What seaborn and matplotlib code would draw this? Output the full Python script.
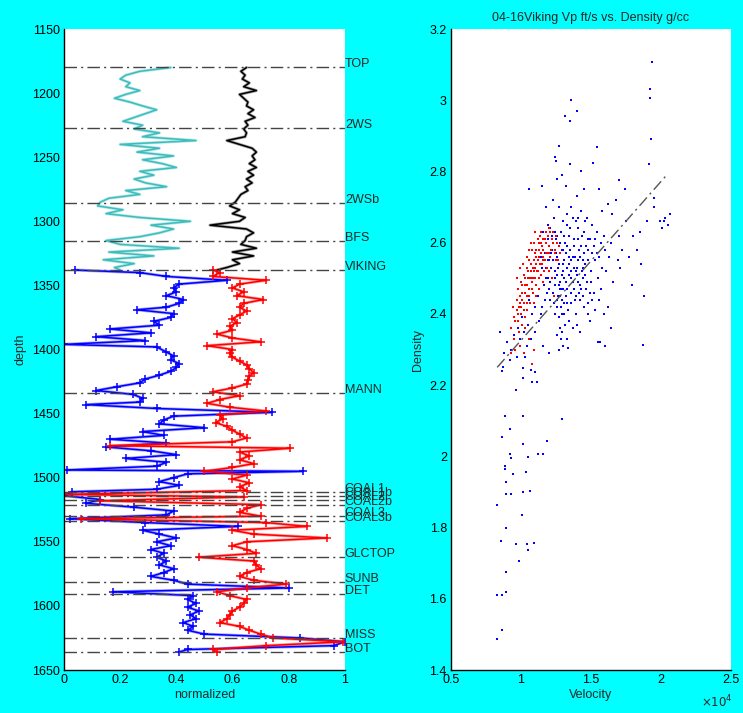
import numpy as np
import pandas as pd
import seaborn as sns
import matplotlib.pyplot as plt

# ---- well tops ----
top_names = ['TOP', '2WS', '2WSb', 'BFS', 'VIKING', 'MANN', 'COAL1', 'COAL1b', 'COAL2', 'COAL2b',
             'COAL3', 'COAL3b', 'GLCTOP', 'SUNB', 'DET', 'MISS', 'BOT']
top_depths = [1180, 1227, 1286, 1315, 1338, 1434, 1511, 1514, 1517, 1521,
              1530, 1534, 1562, 1581, 1591, 1625, 1636]

# ---- upper logs (above VIKING) ----
upper_depth = [1180, 1183, 1186, 1189, 1192, 1195, 1198, 1201, 1204, 1207, 1210, 1213, 1216, 1219,
               1222, 1225, 1228, 1231, 1234, 1237, 1240, 1243, 1246, 1249, 1252, 1255, 1258, 1261,
               1264, 1267, 1270, 1273, 1276, 1279, 1282, 1285, 1288, 1291, 1294, 1297, 1300, 1303,
               1306, 1309, 1312, 1315, 1318, 1321, 1324, 1327, 1330, 1333, 1336, 1338]
cyan_log = [0.38, 0.27, 0.22, 0.20, 0.235, 0.22, 0.27, 0.22, 0.18, 0.235, 0.28, 0.33, 0.29, 0.25,
            0.21, 0.28, 0.25, 0.34, 0.28, 0.47, 0.20, 0.34, 0.26, 0.39, 0.28, 0.35, 0.40, 0.27,
            0.32, 0.25, 0.29, 0.365, 0.22, 0.27, 0.16, 0.13, 0.12, 0.21, 0.15, 0.27, 0.45, 0.31,
            0.39, 0.34, 0.27, 0.15, 0.20, 0.41, 0.16, 0.32, 0.14, 0.25, 0.18, 0.20]
black_log = [0.65, 0.63, 0.645, 0.635, 0.66, 0.64, 0.685, 0.625, 0.64, 0.655, 0.65, 0.675, 0.655, 0.68,
             0.645, 0.655, 0.64, 0.65, 0.645, 0.58, 0.625, 0.67, 0.685, 0.67, 0.68, 0.66, 0.685, 0.655,
             0.675, 0.65, 0.67, 0.645, 0.655, 0.63, 0.62, 0.61, 0.59, 0.625, 0.60, 0.645, 0.625, 0.52,
             0.65, 0.675, 0.65, 0.645, 0.63, 0.685, 0.60, 0.675, 0.60, 0.625, 0.58, 0.545]

# ---- lower logs (VIKING to BOT) ----
blue_depth = [1338, 1340, 1343, 1346, 1349, 1352, 1355, 1358, 1361, 1364, 1367, 1369, 1372, 1375,
              1378, 1381, 1384, 1387, 1390, 1393, 1396, 1398, 1402, 1405, 1408, 1411, 1414, 1417,
              1420, 1423, 1426, 1429, 1432, 1435, 1438, 1441, 1443, 1446, 1449, 1452, 1455, 1458,
              1461, 1464, 1467, 1470, 1473, 1476, 1479, 1482, 1485, 1488, 1491, 1494, 1495, 1497,
              1500, 1503, 1506, 1509, 1511, 1514, 1517, 1520, 1523, 1526, 1529, 1532, 1535, 1538,
              1541, 1544, 1547, 1550, 1553, 1556, 1559, 1562, 1565, 1568, 1571, 1574, 1577, 1580,
              1583, 1586, 1589, 1592, 1595, 1598, 1601, 1604, 1607, 1610, 1613, 1616, 1619, 1622,
              1625, 1628, 1631, 1634, 1636]
blue_log = [0.04, 0.27, 0.365, 0.58, 0.41, 0.39, 0.40, 0.365, 0.425, 0.41, 0.365, 0.26, 0.39, 0.38,
            0.32, 0.34, 0.165, 0.31, 0.115, 0.29, 0.0, 0.33, 0.365, 0.39, 0.38, 0.41, 0.40, 0.38,
            0.34, 0.29, 0.27, 0.19, 0.115, 0.245, 0.28, 0.27, 0.08, 0.33, 0.74, 0.39, 0.355, 0.34,
            0.50, 0.28, 0.355, 0.165, 0.365, 0.15, 0.31, 0.40, 0.22, 0.365, 0.33, 0.01, 0.85, 0.44,
            0.39, 0.34, 0.41, 0.33, 0.03, 0.0, 0.13, 0.08, 0.25, 0.39, 0.365, 0.02, 0.29, 0.62,
            0.28, 0.34, 0.40, 0.33, 0.38, 0.31, 0.355, 0.33, 0.365, 0.34, 0.39, 0.355, 0.31, 0.39,
            0.44, 0.80, 0.175, 0.46, 0.44, 0.47, 0.44, 0.48, 0.45, 0.47, 0.425, 0.46, 0.44, 0.50,
            0.84, 1.0, 0.96, 0.44, 0.41]
red_depth = [1338, 1340, 1343, 1346, 1349, 1352, 1355, 1358, 1361, 1364, 1367, 1370, 1373, 1376,
             1379, 1382, 1385, 1388, 1391, 1394, 1397, 1400, 1403, 1406, 1409, 1412, 1415, 1418,
             1421, 1424, 1427, 1430, 1433, 1436, 1439, 1442, 1445, 1448, 1451, 1454, 1457, 1460,
             1463, 1466, 1469, 1472, 1475, 1477, 1480, 1483, 1486, 1489, 1492, 1495, 1498, 1501,
             1504, 1507, 1510, 1513, 1515, 1518, 1521, 1524, 1527, 1530, 1532, 1535, 1538, 1541,
             1544, 1547, 1550, 1553, 1556, 1559, 1562, 1565, 1568, 1571, 1574, 1577, 1580, 1583,
             1586, 1589, 1592, 1595, 1598, 1601, 1604, 1607, 1610, 1613, 1616, 1619, 1622, 1625,
             1628, 1631, 1634, 1636]
red_log = [0.53, 0.555, 0.53, 0.72, 0.625, 0.60, 0.64, 0.615, 0.71, 0.64, 0.625, 0.65, 0.625, 0.60,
           0.615, 0.59, 0.60, 0.545, 0.60, 0.70, 0.51, 0.60, 0.59, 0.60, 0.625, 0.65, 0.66, 0.675,
           0.66, 0.655, 0.65, 0.60, 0.53, 0.625, 0.555, 0.51, 0.59, 0.72, 0.555, 0.565, 0.54, 0.58,
           0.60, 0.625, 0.65, 0.60, 0.165, 0.805, 0.625, 0.66, 0.625, 0.675, 0.60, 0.50, 0.65, 0.60,
           0.66, 0.625, 0.65, 0.0, 0.64, 0.13, 0.70, 0.65, 0.625, 0.70, 0.06, 0.72, 0.865, 0.60,
           0.675, 0.935, 0.65, 0.60, 0.65, 0.685, 0.48, 0.675, 0.685, 0.70, 0.65, 0.625, 0.675, 0.79,
           0.65, 0.545, 0.59, 0.65, 0.64, 0.625, 0.60, 0.59, 0.58, 0.555, 0.625, 0.66, 0.70, 0.745,
           0.995, 0.72, 0.53, 0.545]

# ---- crossplot: Vp (ft/s) vs density (g/cc) ----
blue_vel = [12000, 12200, 12400, 12600, 12800, 13000, 13200, 13400, 13600, 13800, 14000, 14200, 14400, 14600, 14800, 15000,
            12100, 12300, 12500, 12700, 12900, 13100, 13300, 13500, 13700, 13900, 14100, 14300, 14500, 14700, 14900, 15100,
            11500, 11700, 11800, 11900, 12050, 12350, 12650, 12950, 13250, 13550, 13850, 14150, 14450, 14750, 15300, 15500,
            12600, 12700, 12800, 12900, 13000, 13100, 12750, 12850, 13150, 12550, 13350, 13600, 13900, 14200, 14500, 15200,
            13000, 13300, 13600, 13900, 14300, 14700, 12700, 15400, 15700, 16000, 15800, 16300, 16600, 15600, 16200,
            11200, 11000, 10800, 10500, 10200, 9900, 9600, 9300, 9000, 10600, 11100, 11400, 10900, 10300, 9700,
            12400, 12200, 11900, 11600, 12150, 12450, 12750, 13050, 13450, 13750, 14050, 14350, 14650, 13200, 13400, 12450,
            16800, 17500, 18000, 18500, 17200, 16900, 18600, 17900, 17100, 16400, 15500, 14900, 14200, 13000, 12000, 11600,
            14500, 14000, 13200, 12900, 12600, 15800, 16200, 17400, 11800, 12250,
            12300, 12500, 12700, 12900, 13100, 13300, 13500, 13700, 13900, 14100, 14300, 14500, 12400, 12600, 12800, 13000,
            13200, 13400, 13600, 13800, 14000, 14200, 14400, 14600, 14800, 15000, 15200, 15400,
            12250, 12550, 12850, 13150, 13450, 13750, 14050, 14350, 14650, 14950, 12150, 11950, 11750, 11650, 11850, 12050,
            12350, 12650, 12950, 13250, 13550, 13850, 14150, 14450, 14750, 15050,
            12700, 12900, 12600, 13100, 12850, 12750, 13000, 13300, 13700, 14100, 14600, 15100, 15300, 15600, 15900, 16100,
            16400, 15700, 15900, 15300, 14800, 14000, 13700, 13300,
            11300, 11400, 11600, 11900, 12000, 11700, 11500, 11300, 11000, 10700, 10400, 10100, 9800, 9500, 9200, 8800,
            8500, 8700, 15600, 16500, 17000, 17700, 18300, 19000, 19500, 18800, 13500, 14300, 12400, 11500,
            19340, 19210, 19210, 13570, 13140, 13980, 13500, 19260, 12740, 15400, 12480, 15120, 19170, 10600, 16980, 19500,
            19900, 20100, 20300, 20500, 20640, 20200,
            8260, 8640, 8310, 8640, 8930, 8930, 9880, 8570, 9620, 10410, 10930, 10500, 8930, 10050, 8260, 8930,
            9310, 10160, 10660, 8930, 9400, 10360, 8880, 8880, 9260, 9210, 10520, 11240, 11550, 10160, 11840, 8660,
            9190, 12930, 8860, 10140, 9620, 8640, 10160, 10710, 11020, 10790, 11170, 10120, 18740, 13330, 15640, 16020]
blue_den = [2.55, 2.58, 2.52, 2.56, 2.60, 2.54, 2.57, 2.51, 2.55, 2.59, 2.53, 2.56, 2.50, 2.54, 2.58, 2.52,
            2.49, 2.46, 2.61, 2.48, 2.44, 2.62, 2.47, 2.64, 2.49, 2.45, 2.61, 2.47, 2.63, 2.49, 2.46, 2.57,
            2.53, 2.57, 2.50, 2.61, 2.64, 2.67, 2.53, 2.51, 2.59, 2.52, 2.56, 2.58, 2.55, 2.61, 2.55, 2.50,
            2.42, 2.39, 2.45, 2.40, 2.47, 2.43, 2.36, 2.33, 2.37, 2.44, 2.41, 2.43, 2.40, 2.44, 2.42, 2.46,
            2.66, 2.68, 2.70, 2.66, 2.69, 2.67, 2.70, 2.63, 2.60, 2.58, 2.53, 2.56, 2.49, 2.44, 2.42,
            2.45, 2.42, 2.40, 2.37, 2.35, 2.33, 2.38, 2.30, 2.32, 2.44, 2.48, 2.40, 2.30, 2.28, 2.28,
            2.63, 2.62, 2.65, 2.63, 2.53, 2.50, 2.57, 2.50, 2.56, 2.53, 2.49, 2.52, 2.47, 2.45, 2.38, 2.40,
            2.72, 2.66, 2.62, 2.63, 2.58, 2.55, 2.54, 2.48, 2.53, 2.36, 2.32, 2.38, 2.35, 2.31, 2.29, 2.31,
            2.75, 2.73, 2.76, 2.79, 2.78, 2.69, 2.71, 2.75, 2.70, 2.72,
            2.55, 2.57, 2.54, 2.58, 2.55, 2.53, 2.58, 2.56, 2.52, 2.55, 2.59, 2.57, 2.48, 2.51, 2.49, 2.52,
            2.49, 2.54, 2.50, 2.47, 2.51, 2.48, 2.53, 2.51, 2.55, 2.49, 2.59, 2.57,
            2.60, 2.62, 2.63, 2.60, 2.62, 2.61, 2.64, 2.62, 2.59, 2.61, 2.57, 2.55, 2.53, 2.48, 2.46, 2.44,
            2.43, 2.45, 2.47, 2.43, 2.46, 2.44, 2.46, 2.45, 2.43, 2.44,
            2.30, 2.35, 2.34, 2.40, 2.42, 2.47, 2.58, 2.65, 2.67, 2.67, 2.66, 2.65, 2.61, 2.56, 2.62, 2.52,
            2.60, 2.47, 2.40, 2.41, 2.40, 2.37, 2.36, 2.33,
            2.50, 2.56, 2.58, 2.50, 2.47, 2.44, 2.42, 2.38, 2.35, 2.33, 2.31, 2.39, 2.36, 2.34, 2.27, 2.29,
            2.35, 2.25, 2.75, 2.68, 2.62, 2.56, 2.58, 2.66, 2.70, 2.45, 2.82, 2.80, 2.84, 2.76,
            3.107, 3.031, 3.007, 3.0, 2.955, 2.969, 2.943, 2.891, 2.872, 2.870, 2.828, 2.823, 2.822, 2.751, 2.777, 2.725,
            2.66, 2.64, 2.67, 2.65, 2.68, 2.66,
            1.487, 1.512, 1.611, 1.611, 1.62, 1.676, 1.707, 1.761, 1.754, 1.754, 1.758, 1.738, 1.80, 1.836, 1.864, 1.894,
            1.895, 1.901, 1.904, 1.929, 1.95, 1.955, 1.964, 1.973, 1.994, 2.007, 1.997, 2.007, 2.007, 2.035, 2.044, 2.055,
            2.077, 2.104, 2.112, 2.112, 2.187, 2.241, 2.247, 2.242, 2.238, 2.208, 2.208, 2.221, 2.314, 2.305, 2.321, 2.309]
red_vel = [10800, 11000, 11200, 11400, 11600, 11800, 12000, 12200, 10600, 10400, 10200, 10000, 9800, 9600,
           10900, 11100, 11300, 11500, 11700, 11900, 12100, 12400, 12600, 10700, 10500, 10300, 10100, 9900,
           10850, 11050, 11250, 11450, 11650, 11850, 10650, 10450, 10250, 10050, 9850,
           11000, 11200, 11400, 11600, 10800, 10600, 10400, 10200, 10000, 9800, 9700,
           11150, 11350, 11550, 10950, 10750, 11800, 12000, 12300, 12500, 12800, 10300, 10600, 10900, 9500, 9300,
           11100, 11300, 10900, 11600, 12000, 12200, 9900, 10400, 10700, 11000, 12350, 10200, 9600,
           10900, 11100, 11300, 11500, 11700, 11900, 12100, 12300, 12500, 12700, 10700, 10500, 10300, 10100, 9900, 9700, 9500,
           11000, 11200, 11400, 11600, 11800, 12000, 10800, 10600, 10400, 10200, 10000, 9800,
           11050, 11250, 11450, 10850, 10650, 10450, 10250, 10050, 9850, 12150, 12450, 12650, 11350, 10950, 10550, 10150,
           9700, 9400, 9900, 10800, 9300]
red_den = [2.50, 2.53, 2.55, 2.57, 2.58, 2.60, 2.59, 2.61, 2.47, 2.45, 2.43, 2.42, 2.40, 2.38,
           2.55, 2.58, 2.60, 2.54, 2.55, 2.57, 2.56, 2.58, 2.60, 2.52, 2.50, 2.48, 2.46, 2.45,
           2.46, 2.48, 2.50, 2.51, 2.52, 2.53, 2.43, 2.41, 2.39, 2.37, 2.35,
           2.57, 2.61, 2.63, 2.61, 2.58, 2.55, 2.53, 2.51, 2.49, 2.47, 2.44,
           2.52, 2.54, 2.56, 2.50, 2.49, 2.63, 2.64, 2.63, 2.55, 2.57, 2.36, 2.33, 2.30, 2.33, 2.36,
           2.45, 2.47, 2.43, 2.49, 2.52, 2.50, 2.53, 2.56, 2.60, 2.63, 2.45, 2.29, 2.30,
           2.52, 2.54, 2.56, 2.59, 2.61, 2.62, 2.63, 2.60, 2.62, 2.59, 2.54, 2.52, 2.50, 2.48, 2.43, 2.41, 2.39,
           2.50, 2.52, 2.54, 2.55, 2.57, 2.57, 2.47, 2.45, 2.43, 2.41, 2.40, 2.38,
           2.56, 2.58, 2.60, 2.53, 2.50, 2.48, 2.46, 2.44, 2.42, 2.58, 2.57, 2.55, 2.62, 2.60, 2.58, 2.54,
           2.50, 2.42, 2.31, 2.26, 2.29]
trend_vel = [8300, 20400]
trend_den = [2.25, 2.79]

sns.set_style('white')
plt.rcParams['font.family'] = ['Liberation Sans', 'DejaVu Sans']
plt.rcParams['font.size'] = 9

fig = plt.figure(figsize=(7.43, 7.13), dpi=100)
fig.patch.set_facecolor('#00ffff')
ax1 = fig.add_axes([0.0861, 0.0603, 0.378, 0.899])
ax2 = fig.add_axes([0.607, 0.0603, 0.377, 0.899])


def log_curve(ax, vals, depth, color, marker=None):
    # pale underlay, then the crisp curve on top
    sns.lineplot(x=vals, y=depth, sort=False, estimator=None, orient='y',
                 color=color, lw=2.2, alpha=0.35, ax=ax)
    kw = {}
    if marker:
        kw = dict(marker=marker, markersize=6, markeredgewidth=1.1, markeredgecolor=color)
    sns.lineplot(x=vals, y=depth, sort=False, estimator=None, orient='y',
                 color=color, lw=1.1, ax=ax, **kw)


log_curve(ax1, cyan_log, upper_depth, '#3cbcbc')
log_curve(ax1, black_log, upper_depth, 'black')
log_curve(ax1, blue_log, blue_depth, '#0000ff', marker='+')
log_curve(ax1, red_log, red_depth, '#ff0000', marker='+')

for name, d in zip(top_names, top_depths):
    ax1.axhline(d, color='#444444', lw=1, ls=(0, (9, 3, 1.5, 3)))
    ax1.text(1.0, d, name, ha='left', va='baseline', fontsize=9,
             transform=ax1.get_yaxis_transform(), clip_on=False)

ax1.set_xlim(0, 1)
ax1.set_ylim(1650, 1150)
ax1.set_xticks([0, 0.2, 0.4, 0.6, 0.8, 1])
ax1.set_xticklabels(['0', '0.2', '0.4', '0.6', '0.8', '1'])
ax1.set_yticks(range(1150, 1651, 50))
ax1.set_xlabel('normalized', labelpad=2)
ax1.set_ylabel('depth', labelpad=4)

# right: crossplot
sns.scatterplot(x=blue_vel, y=blue_den, color='#0000ff', marker='s', s=4, linewidth=0, ax=ax2)
sns.scatterplot(x=red_vel, y=red_den, color='#ff0000', marker='s', s=4, linewidth=0, ax=ax2)
sns.lineplot(x=trend_vel, y=trend_den, color='#555555', lw=1, ls=(0, (8, 3, 1.5, 3)), ax=ax2)

ax2.set_xlim(5000, 25000)
ax2.set_ylim(1.4, 3.2)
ax2.set_xticks([5000, 10000, 15000, 20000, 25000])
ax2.set_xticklabels(['0.5', '1', '1.5', '2', '2.5'])
ax2.set_yticks([1.4, 1.6, 1.8, 2.0, 2.2, 2.4, 2.6, 2.8, 3.0, 3.2])
ax2.set_yticklabels(['1.4', '1.6', '1.8', '2', '2.2', '2.4', '2.6', '2.8', '3', '3.2'])
ax2.set_xlabel('Velocity', labelpad=2)
ax2.set_ylabel('Density', labelpad=4)
ax2.set_title('04-16Viking Vp ft/s vs. Density g/cc', fontsize=9, pad=6)
ax2.text(1.005, -0.05, r'$\times10^4$', transform=ax2.transAxes, ha='right', va='center', fontsize=8.5)

for ax in (ax1, ax2):
    ax.set_facecolor('white')
    for side in ('top', 'right'):
        ax.spines[side].set_visible(False)
    for side in ('left', 'bottom'):
        ax.spines[side].set_color('black')
        ax.spines[side].set_linewidth(1)
    ax.tick_params(direction='in', length=5, width=1, colors='black', labelsize=9, pad=3)

fig.savefig('out.png', dpi=100, facecolor=fig.get_facecolor())
